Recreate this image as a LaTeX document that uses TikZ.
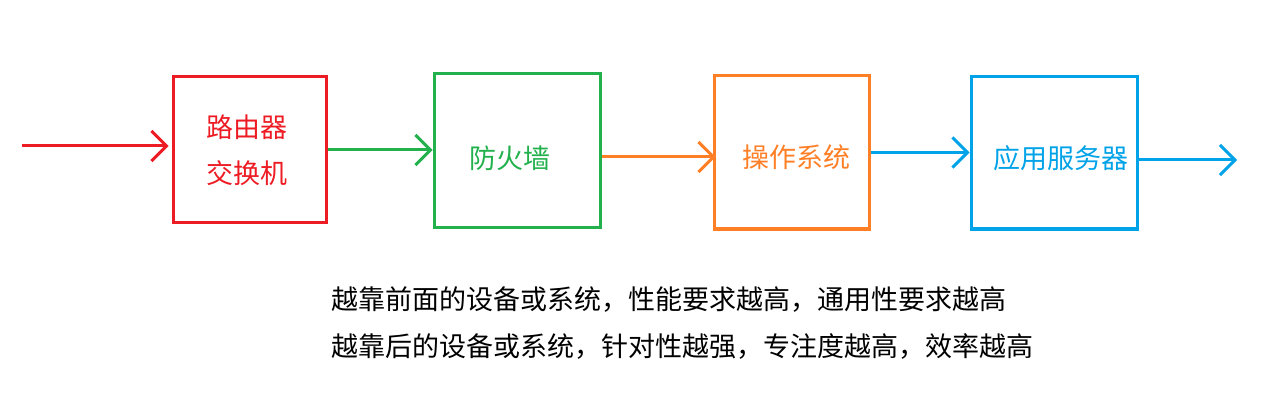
\documentclass[tikz,border=0pt]{standalone}
\usepackage{fontspec}
\newfontfamily\cjk{Noto Sans CJK SC}
\usetikzlibrary{arrows.meta}
\definecolor{pred}{HTML}{ED1C24}
\definecolor{pgreen}{HTML}{22B14C}
\definecolor{porange}{HTML}{FF7F27}
\definecolor{pblue}{HTML}{00A2E8}
\begin{document}
\begin{tikzpicture}[x=1pt, y=-1pt, font=\cjk\fontsize{27}{46}\selectfont,
	box/.style = {draw, line width=3pt, inner sep=0pt, align=center},
	flow/.style = {line width=3pt, -{Straight Barb[length=15pt, width=30pt, line width=3pt]}}]
	\useasboundingbox (0,0) rectangle (1266,406);
	
	%boxes
	\node [box, pred, minimum width=153pt, minimum height=146pt] (router) at (249.5,150) {\hspace*{-6pt}路由器\\\hspace*{-6pt}交换机};
	\node [box, pgreen, minimum width=166pt, minimum height=154pt,
		label={[pgreen, xshift=-7pt, yshift=-7pt]center:防火墙}] (fw) at (517,151) {};
	\node [box, porange, minimum width=155pt, minimum height=153pt,
		label={[porange, xshift=5pt, yshift=-5pt]center:操作系统}] (os) at (791.5,152.5) {};
	\node [box, pblue, minimum width=166pt, minimum height=152pt,
		label={[pblue, xshift=7pt, yshift=-5pt]center:应用服务器}] (app) at (1054,153) {};
	
	%arrows
	\coordinate (in) at (22,146);
	\coordinate (out) at (1237,160);
	\draw [flow, pred] (in) -- ([xshift=-3pt]in -| router.west);
	\draw [flow, pgreen] (router.east) -- (router.east -| fw.west);
	\draw [flow, porange] ([yshift=-6pt]fw.east) -- ([yshift=-6pt, xshift=3pt]fw.east -| os.west);
	\draw [flow, pblue] (os.east) -- (os.east -| app.west);
	\draw [flow, pblue] (app.east |- out) -- (out);
	
	%notes
	\node [anchor=west] (note1) at (328,300) {越靠前面的设备或系统，性能要求越高，通用性要求越高};
	\node [anchor=west] (note2) at (328,347) {越靠后的设备或系统，针对性越强，专注度越高，效率越高};
\end{tikzpicture}
\end{document}
